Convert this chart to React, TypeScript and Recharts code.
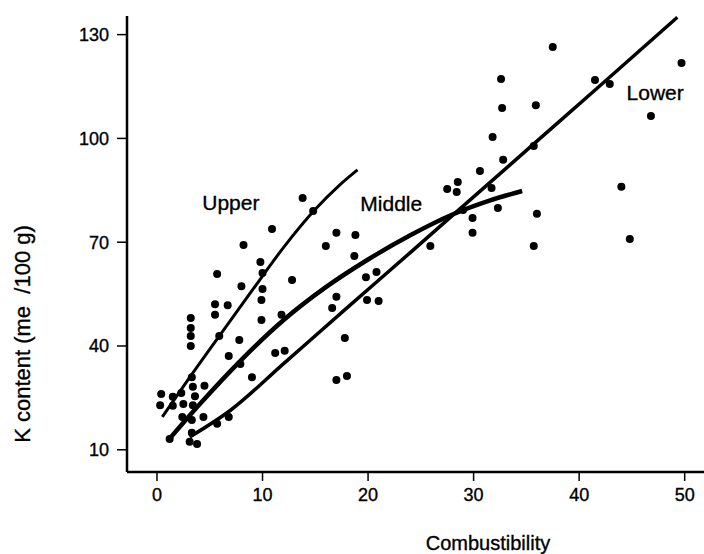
import React from "react";
import { ComposedChart, Line, Scatter, XAxis, YAxis, Label } from "recharts";

const FONT = "'Liberation Sans', Arial, Helvetica, sans-serif";

// observed samples: [combustibility, K content]
const samples: [number, number][] = [
  [8.2, 69.2], [16.0, 68.9], [9.8, 64.3], [5.7, 60.8], [10.0, 61.1], [12.8, 59.1],
  [8.0, 57.3], [10.0, 56.5], [5.5, 52.1], [6.7, 51.8], [9.9, 53.3], [17.0, 54.2],
  [16.6, 51.0], [5.5, 49.0], [9.9, 47.5], [11.8, 49.0], [3.2, 48.1], [3.2, 45.2],
  [3.2, 42.9], [3.2, 40.0], [5.9, 42.9], [7.8, 41.7], [6.8, 37.1], [11.2, 38.0],
  [12.1, 38.6], [7.9, 34.8], [17.0, 30.2], [9.0, 31.0], [3.3, 31.0], [3.4, 28.2],
  [4.5, 28.5], [0.4, 26.1], [1.5, 25.3], [2.3, 26.4], [3.6, 25.5], [0.3, 22.9],
  [1.5, 22.7], [2.5, 23.2], [3.4, 22.9], [2.4, 19.5], [3.3, 18.6], [4.4, 19.5],
  [6.8, 19.5], [5.7, 17.5], [1.2, 13.1], [3.3, 14.9], [3.1, 12.3], [3.8, 11.7],
  [13.8, 82.8], [14.8, 79.0], [10.9, 73.8], [17.0, 72.7], [18.8, 72.1], [18.7, 66.0],
  [20.8, 61.4], [19.8, 59.9], [19.9, 53.3], [21.0, 53.0], [17.8, 42.3], [18.0, 31.3],
  [25.9, 68.9], [30.6, 90.6], [28.5, 87.4], [27.5, 85.4], [28.4, 84.5], [32.8, 93.8],
  [31.7, 85.7], [29.0, 79.3], [32.3, 79.9], [36.0, 78.2], [29.9, 77.0], [29.9, 72.7],
  [35.7, 68.9], [37.5, 126.4], [49.7, 121.8], [32.6, 117.2], [41.5, 116.9], [42.9, 115.7],
  [32.7, 108.8], [35.9, 109.6], [46.8, 106.5], [31.8, 100.4], [35.7, 97.8], [44.0, 86.0],
  [44.8, 70.9],
];

// fitted curves
const upperCurve: [number, number][] = [
  [0.5, 19.5], [3, 30.5], [6, 43.3], [9, 56], [12, 68.5],
  [15, 79.5], [17.3, 86.5], [19, 90.9],
];
const middleCurve: [number, number][] = [
  [1, 12.5], [4, 23], [8, 36], [12, 47.5], [16, 57], [20, 65],
  [24, 72], [28, 78], [31.5, 82], [34.6, 84.8],
];
const lowerCurve: [number, number][] = [
  [3.1, 13.7], [7, 21.5], [12, 34.9], [18, 51], [24, 67],
  [30, 83.1], [36, 99.2], [42, 115.3], [49.3, 135],
];

const curveNames: [string, number, number][] = [
  ["Upper", 7.0, 81.6],
  ["Middle", 22.2, 81.3],
  ["Lower", 47.2, 113.4],
];

const xTicks = [0, 10, 20, 30, 40, 50];
const yTicks = [10, 40, 70, 100, 130];

const toXY = (arr: [number, number][]) => arr.map(([x, y]) => ({ x, y }));

const ink = { fill: "#000", stroke: "#000", strokeWidth: 0.35 };

const dot = (p: any) => <circle cx={p.cx} cy={p.cy} r={4} fill="#000" />;
const nameText = (p: any) => (
  <text x={p.cx} y={p.cy} textAnchor="middle" dominantBaseline="central"
    fontSize={21} fontFamily={FONT} {...ink}>{p.payload.text}</text>
);

const xLabel = ({ viewBox }: any) => (
  <text x={viewBox.x + 361} y={viewBox.y + 78} textAnchor="middle"
    fontSize={20} fontFamily={FONT} {...ink}>Combustibility</text>
);
const yLabel = ({ viewBox }: any) => {
  const cx = viewBox.x + 22;
  const cy = viewBox.y + 318;
  return (
    <text x={cx} y={cy} textAnchor="middle" dominantBaseline="central"
      transform={`rotate(-90, ${cx}, ${cy})`} fontSize={22} fontFamily={FONT} {...ink}>
      K content (me {"\u00a0"}/100 g)
    </text>
  );
};

export default function App() {
  const tickStyle = { fontSize: 18, fontFamily: FONT, ...ink };
  return (
    <div style={{ position: "absolute", left: 0, top: 0, width: 704, height: 554, background: "#fff" }}>
      <ComposedChart width={704} height={554} margin={{ top: 16, right: 0, bottom: 0, left: 0 }}>
        <XAxis type="number" dataKey="x" domain={[-2.84, 51.83]} ticks={xTicks} interval={0}
          allowDataOverflow height={82} tickSize={9} tickMargin={7} tick={tickStyle}
          axisLine={{ stroke: "#000", strokeWidth: 2.5 }} tickLine={{ stroke: "#000", strokeWidth: 1.5 }}>
          <Label content={xLabel} />
        </XAxis>
        <YAxis type="number" dataKey="y" domain={[3.58, 135.38]} ticks={yTicks} interval={0}
          allowDataOverflow width={127} tickSize={10} tickMargin={8} tick={tickStyle}
          axisLine={{ stroke: "#000", strokeWidth: 2.5 }} tickLine={{ stroke: "#000", strokeWidth: 1.5 }}>
          <Label content={yLabel} />
        </YAxis>
        <Line data={toXY(upperCurve)} dataKey="y" type="monotone" stroke="#000" strokeWidth={3}
          dot={false} activeDot={false} isAnimationActive={false} />
        <Line data={toXY(middleCurve)} dataKey="y" type="monotone" stroke="#000" strokeWidth={4.5}
          dot={false} activeDot={false} isAnimationActive={false} />
        <Line data={toXY(lowerCurve)} dataKey="y" type="monotone" stroke="#000" strokeWidth={3.5}
          dot={false} activeDot={false} isAnimationActive={false} />
        <Scatter data={toXY(samples)} dataKey="y" shape={dot} isAnimationActive={false} />
        <Scatter data={curveNames.map(([text, x, y]) => ({ text, x, y }))} dataKey="y"
          shape={nameText} isAnimationActive={false} />
      </ComposedChart>
    </div>
  );
}
